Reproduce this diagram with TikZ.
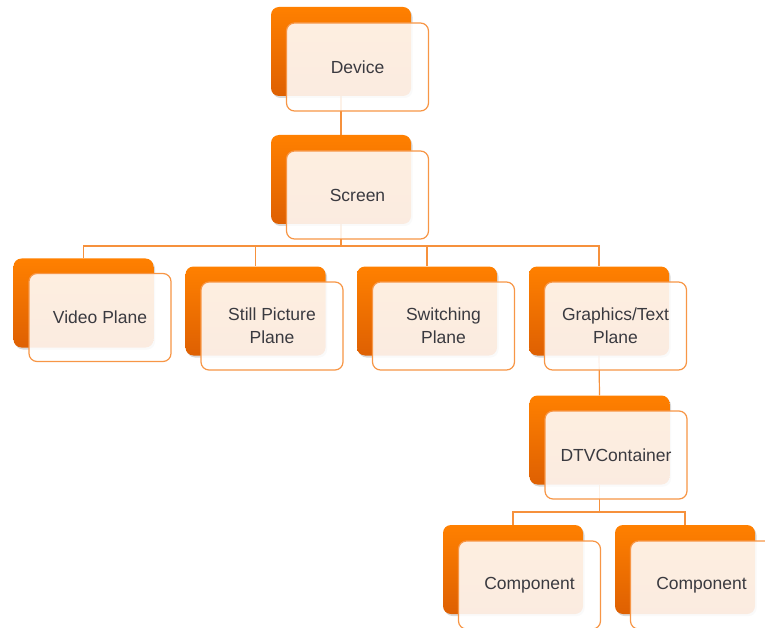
\documentclass[tikz,border=0pt]{standalone}
\usepackage{fontspec}
\setmainfont{Liberation Sans}
\usetikzlibrary{positioning,calc,shadows}
\pgfdeclarelayer{bg}
\pgfsetlayers{bg,main}
\definecolor{orgtop}{RGB}{255,128,0}
\definecolor{orgbot}{RGB}{222,96,2}
\definecolor{orgline}{RGB}{247,150,70}
\definecolor{orglink}{RGB}{246,145,60}
\definecolor{txtgray}{RGB}{58,58,64}

\begin{document}
\begin{tikzpicture}[x=1pt, y=-1pt,
    back/.style={rectangle, rounded corners=8pt, top color=orgtop, bottom color=orgbot,
        minimum width=140pt, minimum height=89pt, inner sep=0pt,
        drop shadow={opacity=0.3, shadow xshift=1.5pt, shadow yshift=-2pt}},
    front/.style={rectangle, rounded corners=8pt, draw=orgline, line width=1.2pt,
        fill=white, fill opacity=0.88, text opacity=1, text=txtgray,
        minimum width=142pt, minimum height=88pt, inner sep=2pt, align=center,
        font=\fontsize{17.5}{23}\selectfont},
    link/.style={draw=orglink, line width=1.2pt}]
        \useasboundingbox (0,0) rectangle (765,628);
        \clip (0,0) rectangle (765,628);

        % top of the tree
        \node [back] (devb) at (341,51.5) {};
        \node [front] (dev) at ($(devb)+(16.5,15.5)$) {Device};
        \node [back] (scrb) at (341,179.5) {};
        \node [front] (scr) at ($(scrb)+(16.5,15.5)$) {Screen};

        % planes
        \node [back] (vidb) at (83.5,303) {};
        \node [front] (vid) at ($(vidb)+(16.5,14.5)$) {Video Plane};
        \node [back] (stib) at (255.5,311) {};
        \node [front] (sti) at ($(stib)+(16.5,15)$) {Still Picture\\Plane};
        \node [back] (swib) at (427,311) {};
        \node [front] (swi) at ($(swib)+(16.5,15)$) {Switching\\Plane};
        \node [back] (gfxb) at (599,311) {};
        \node [front] (gfx) at ($(gfxb)+(16.5,15)$) {Graphics/Text\\Plane};

        % container and components
        \node [back] (dtvb) at (599.5,440) {};
        \node [front] (dtv) at ($(dtvb)+(16.5,15)$) {DTVContainer};
        \node [back] (cmpab) at (513,569.5) {};
        \node [front] (cmpa) at ($(cmpab)+(16.5,15.5)$) {Component};
        \node [back] (cmpbb) at (685,569.5) {};
        \node [front] (cmpb) at ($(cmpbb)+(16.5,15.5)$) {Component};

        \coordinate (bus1) at (341,246);
        \coordinate (bus2) at (599.5,512);

        \begin{pgfonlayer}{bg}
        \path[link] (devb.south) -- (scrb.north);
        \path[link] (scrb.south) -- (bus1) -| (vidb.north);
        \path[link] (bus1) -| (stib.north);
        \path[link] (bus1) -| (swib.north);
        \path[link] (bus1) -| (gfxb.north);
        \path[link] (gfxb.south) -- (dtvb.north);
        \path[link] (dtvb.south) -- (bus2) -| (cmpab.north);
        \path[link] (bus2) -| (cmpbb.north);
        \end{pgfonlayer}
    \end{tikzpicture}
\end{document}
